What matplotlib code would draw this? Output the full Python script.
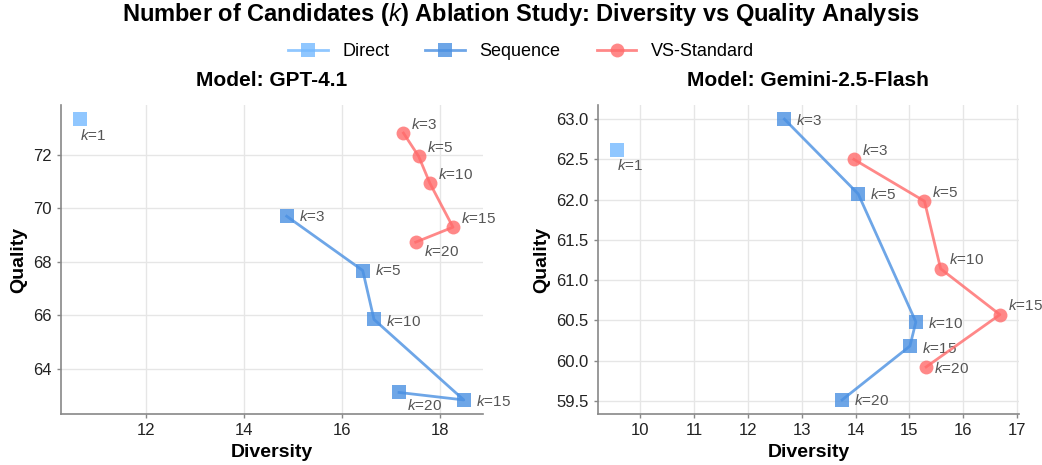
import matplotlib
matplotlib.use("Agg")
import matplotlib.pyplot as plt
import matplotlib.ticker as mticker
from matplotlib.lines import Line2D

plt.rcParams['font.family'] = ['Liberation Sans', 'DejaVu Sans']
plt.rcParams['mathtext.fontset'] = 'custom'
plt.rcParams['mathtext.rm'] = 'Liberation Sans'
plt.rcParams['mathtext.it'] = 'Liberation Sans:italic'
plt.rcParams['mathtext.bf'] = 'Liberation Sans:bold'

# ---------------- data ----------------
models = ["GPT-4.1", "Gemini-2.5-Flash"]
k_values = [3, 5, 10, 15, 20]

gpt_direct_div = [10.66]
gpt_direct_qual = [73.33]
gpt_seq_div = [14.87, 16.42, 16.65, 18.48, 17.16]
gpt_seq_qual = [69.70, 67.67, 65.84, 62.83, 63.11]
gpt_vs_div = [17.25, 17.56, 17.79, 18.26, 17.50]
gpt_vs_qual = [72.81, 71.94, 70.93, 69.29, 68.73]

gem_direct_div = [9.57]
gem_direct_qual = [62.62]
gem_seq_div = [12.68, 14.05, 15.12, 15.01, 13.75]
gem_seq_qual = [63.00, 62.07, 60.48, 60.18, 59.51]
gem_vs_div = [13.97, 15.28, 15.58, 16.68, 15.31]
gem_vs_qual = [62.50, 61.98, 61.14, 60.57, 59.92]

# ---------------- style ----------------
c_direct = '#74b9ff'
c_seq = '#4a90e2'
c_vs = '#ff6b6b'
label_color = '#555555'

panels = [
    dict(model=models[0],
         direct=(gpt_direct_div, gpt_direct_qual),
         seq=(gpt_seq_div, gpt_seq_qual),
         vs=(gpt_vs_div, gpt_vs_qual),
         seq_off=[(12, 0), (12, 0), (12, -2), (12, -2), (8, -13)],
         vs_off=[(8, 9), (8, 9), (8, 9), (8, 9), (8, -9)]),
    dict(model=models[1],
         direct=(gem_direct_div, gem_direct_qual),
         seq=(gem_seq_div, gem_seq_qual),
         vs=(gem_vs_div, gem_vs_qual),
         seq_off=[(12, -1), (12, -1), (12, -2), (12, -2), (12, -1)],
         vs_off=[(8, 9), (8, 9), (8, 9), (8, 9), (8, -2)]),
]

fig = plt.figure(figsize=(10.42, 4.65), dpi=100)
axes = [fig.add_axes([0.0585, 0.1097, 0.405, 0.6643]),
        fig.add_axes([0.5736, 0.1097, 0.4044, 0.6643])]


def klabel(k):
    return r"$\mathit{k}$=" + str(k)


for ax, p in zip(axes, panels):
    ax.set_axisbelow(True)
    ax.grid(True, color='#e6e6e6', linewidth=1.0)
    for s in ['top', 'right']:
        ax.spines[s].set_visible(False)
    for s in ['left', 'bottom']:
        ax.spines[s].set_color('#888888')
        ax.spines[s].set_linewidth(1.2)
    ax.tick_params(axis='both', labelsize=12, labelcolor='#222222', length=3,
                   width=1, direction='out', color='#888888')

    dx, dy = p['direct']
    ax.plot(dx, dy, 's', color=c_direct, alpha=0.8, markersize=10,
            markeredgewidth=0, zorder=3)
    ax.annotate(klabel(1), (dx[0], dy[0]), xytext=(0, -16),
                textcoords='offset pixels', ha='left', va='center',
                fontsize=11, color=label_color)

    sx, sy = p['seq']
    ax.plot(sx, sy, '-s', color=c_seq, alpha=0.8, linewidth=2,
            markersize=10, markeredgewidth=0, zorder=3)
    for k, x, y, off in zip(k_values, sx, sy, p['seq_off']):
        ax.annotate(klabel(k), (x, y), xytext=off, textcoords='offset pixels',
                    ha='left', va='center', fontsize=11, color=label_color)

    vx, vy = p['vs']
    ax.plot(vx, vy, '-o', color=c_vs, alpha=0.8, linewidth=2,
            markersize=10, markeredgewidth=0, zorder=3)
    for k, x, y, off in zip(k_values, vx, vy, p['vs_off']):
        ax.annotate(klabel(k), (x, y), xytext=off, textcoords='offset pixels',
                    ha='left', va='center', fontsize=11, color=label_color)

    ax.set_xlabel('Diversity', fontsize=14, fontweight='bold')
    ax.set_ylabel('Quality', fontsize=14, fontweight='bold')
    ax.set_title('Model: ' + p['model'], fontsize=15, fontweight='bold', pad=14)

axes[0].set_xticks([12, 14, 16, 18])
axes[0].set_yticks([64, 66, 68, 70, 72])
axes[1].set_xticks([10, 11, 12, 13, 14, 15, 16, 17])
axes[1].set_yticks([59.5, 60.0, 60.5, 61.0, 61.5, 62.0, 62.5, 63.0])
axes[1].yaxis.set_major_formatter(mticker.FormatStrFormatter('%.1f'))

handles = [
    Line2D([], [], color=c_direct, alpha=0.8, marker='s', linewidth=2,
           markersize=10, markeredgewidth=0, label='Direct'),
    Line2D([], [], color=c_seq, alpha=0.8, marker='s', linewidth=2,
           markersize=10, markeredgewidth=0, label='Sequence'),
    Line2D([], [], color=c_vs, alpha=0.8, marker='o', linewidth=2,
           markersize=10, markeredgewidth=0, label='VS-Standard'),
]
fig.legend(handles=handles, loc='center', bbox_to_anchor=(0.5, 0.889),
           ncol=3, frameon=False, fontsize=13, handlelength=2.2,
           columnspacing=2.0)

fig.suptitle(r'Number of Candidates ($\mathit{k}$) Ablation Study: Diversity vs Quality Analysis',
             fontsize=17, fontweight='bold', y=0.955, va='baseline')

fig.savefig('out.png', dpi=100)
